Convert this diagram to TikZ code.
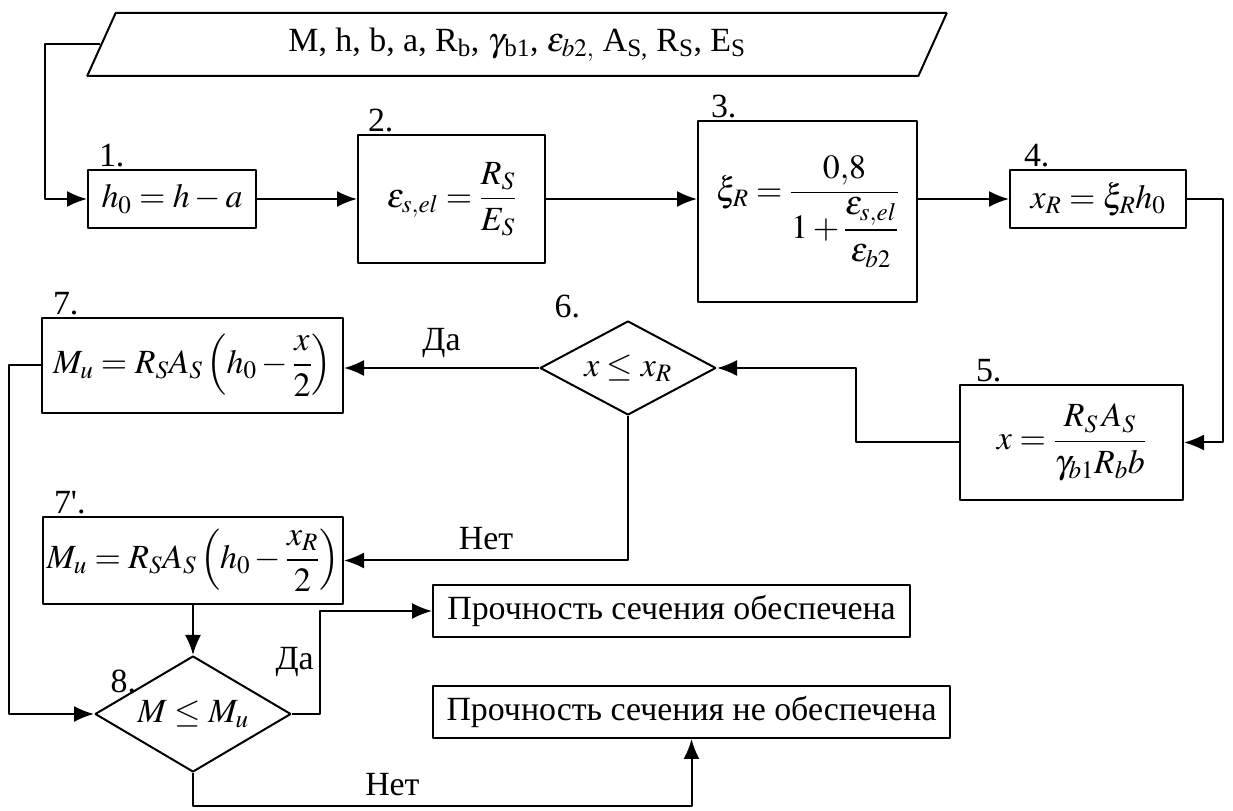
\documentclass[tikz,border=0pt]{standalone}
\usepackage{mathptmx}
\usepackage{amsmath}
\usepackage[no-math]{fontspec}
\setmainfont{Liberation Serif}
\usetikzlibrary{shapes.geometric,arrows.meta}
\tikzset{
  proc/.style={draw, rectangle, inner sep=0pt},
  decide/.style={draw, diamond, inner sep=-6bp},
  datain/.style={draw, trapezium, trapezium left angle=64.5, trapezium right angle=115.5,
    trapezium stretches=true, inner sep=0pt},
  numlbl/.style={anchor=south west, inner sep=1bp},
}
\begin{document}
\begin{tikzpicture}[>={Latex[length=20bp,width=16bp]},line join=bevel,font=\fontsize{34}{40}\selectfont]
  \pgfsetlinewidth{2bp}
  \useasboundingbox (0bp,0bp) rectangle (1233bp,811bp);
  \fill[white] (0bp,0bp) rectangle (1233bp,811bp);
%%
  % Node: input
  \node[datain, minimum width=862bp, minimum height=63bp] (input) at (517bp,766.5bp)
    {M, h, b, a, R\textsubscript{b}, $\gamma$\textsubscript{b1}, $\varepsilon_{b2,}$ A\textsubscript{S,} R\textsubscript{S}, E\textsubscript{S}};
  % Node: h0
  \node[proc, minimum width=168bp, minimum height=58bp] (h0) at (172bp,612bp) {$h_0 = h - a$};
  \node[numlbl] at ([xshift=10bp]h0.north west) {1.};
  % Node: epsel
  \node[proc, minimum width=187bp, minimum height=128bp] (epsel) at (451.5bp,612bp)
    {$\varepsilon_{s,el} = \dfrac{R_S}{E_S}$};
  \node[numlbl] at ([xshift=9bp]epsel.north west) {2.};
  % Node: xiR
  \node[proc, minimum width=219bp, minimum height=181bp] (xiR) at (807.5bp,599.5bp)
    {$\xi_R = \dfrac{0{,}8}{1+\dfrac{\varepsilon_{s,el}}{\varepsilon_{b2}}}$};
  \node[numlbl] at ([xshift=12bp]xiR.north west) {3.};
  % Node: xR
  \node[proc, minimum width=176bp, minimum height=58bp] (xR) at (1098bp,612bp) {$x_R = \xi_R h_0$};
  \node[numlbl] at ([xshift=13bp]xR.north west) {4.};
  % Node: xval
  \node[proc, minimum width=223bp, minimum height=115bp] (xval) at (1071.5bp,368.5bp)
    {$x = \dfrac{R_S\,A_S}{\gamma_{b1} R_b b}$};
  \node[numlbl] at ([xshift=15bp]xval.north west) {5.};
  % Node: check
  \node[decide, shape aspect=1.87, minimum width=176bp, minimum height=94bp] (check) at (628bp,443bp)
    {$x \le x_R$};
  \node[anchor=south east, inner sep=1bp] at ([xshift=-46bp]check.north) {6.};
  % Node: Mu
  \node[proc, minimum width=301bp, minimum height=95bp] (Mu) at (192.5bp,445.5bp)
    {$M_u = R_S A_S \left( h_0 - \dfrac{x}{2} \right)$};
  \node[numlbl] at ([xshift=10bp]Mu.north west) {7.};
  % Node: MuR
  \node[proc, minimum width=300bp, minimum height=87bp] (MuR) at (193bp,250.5bp)
    {$M_u = R_S A_S \left( h_0 - \dfrac{x_R}{2} \right)$};
  \node[numlbl] at ([xshift=10bp]MuR.north west) {7\textquotesingle.};
  % Node: strength
  \node[decide, shape aspect=1.69, minimum width=196bp, minimum height=116bp] (strength) at (193bp,97bp)
    {$M \le M_u$};
  \node[anchor=south east, inner sep=1bp] at ([shift={(-55bp,19bp)}]strength.center) {8.};
  % Node: safe
  \node[proc, minimum width=477bp, minimum height=52bp] (safe) at (671.5bp,200bp)
    {Прочность сечения обеспечена};
  % Node: unsafe
  \node[proc, minimum width=517bp, minimum height=52bp] (unsafe) at (691.5bp,99bp)
    {Прочность сечения не обеспечена};
%%
  % Edge: input -> h0
  \draw[->] (input.west) -- ++(-55bp,0) |- (h0.west);
  % Edge: h0 -> epsel
  \draw[->] (h0.east) -- (epsel.west);
  % Edge: epsel -> xiR
  \draw[->] (epsel.east) -- (epsel.east -| xiR.west);
  % Edge: xiR -> xR
  \draw[->] (xiR.east |- xR.west) -- (xR.west);
  % Edge: xR -> xval
  \draw[->] (xR.east) -- ++(36bp,0) |- (xval.east);
  % Edge: xval -> check
  \draw[->] (xval.west) -- ++(-103bp,0) |- (check.east);
  % Edge: check -> Mu
  \draw[->] (check.west) -- node[above=6bp] {Да} (check.west -| Mu.east);
  % Edge: check -> MuR
  \draw[->] (check.south) |- node[pos=0.75, above=6bp] {Нет} (MuR.east);
  % Edge: MuR -> strength
  \draw[->] (MuR.south) -- (strength.north);
  % Edge: Mu -> strength
  \draw[->] (Mu.west) -- ++(-32bp,0) |- (strength.west);
  % Edge: strength -> safe
  \draw[->] (strength.east) -- ++(28bp,0) |- node[pos=0.25, left=2bp] {Да} (safe.west);
  % Edge: strength -> unsafe
  \draw[->] (strength.south) -- ++(0,-33bp) -| node[pos=0.2, above=6bp] {Нет} (unsafe.south);
%
\end{tikzpicture}
\end{document}
